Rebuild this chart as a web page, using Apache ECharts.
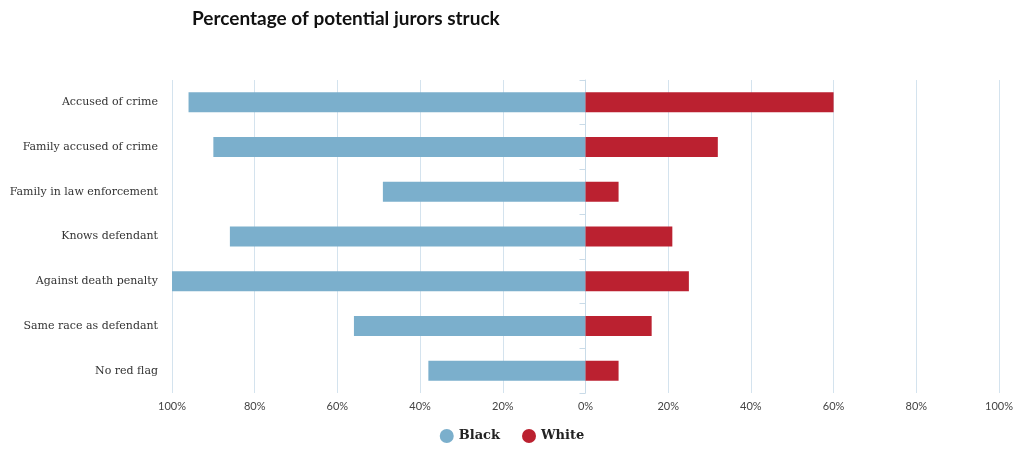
<!DOCTYPE html><html><head><meta charset="utf-8">
<script src="https://cdn.jsdelivr.net/npm/echarts@6/dist/echarts.min.js"></script>
<style>html,body{margin:0;background:#fff}#c{width:1024px;height:456px}</style></head><body><div id="c"></div>
<script>
const categories=["Accused of crime","Family accused of crime","Family in law enforcement","Knows defendant","Against death penalty","Same race as defendant","No red flag"];
const blackValues=[96,90,49,86,100,56,38];
const whiteValues=[60,32,8,21,25,16,8];
const xTicks=[-100,-80,-60,-40,-20,0,20,40,60,80,100];
const chart=echarts.init(document.getElementById('c'));
chart.setOption({
 animation:false,
 title:{text:"Percentage of potential jurors struck",left:187,top:4,textStyle:{fontFamily:"Lato",fontWeight:"bold",fontSize:19,color:"#111"}},
 legend:{bottom:8,left:'center',icon:'circle',itemWidth:14,itemHeight:14,itemGap:22,textStyle:{fontFamily:"DejaVu Serif",fontWeight:'bold',fontSize:13,color:'#222'},data:["Black","White"]},
 grid:{left:172,right:25,top:80,bottom:63},
 xAxis:{type:'value',min:-100,max:100,interval:20,
  axisLabel:{formatter:v=>Math.abs(v)+'%',fontFamily:"Lato",fontSize:11,color:'#444'},
  splitLine:{lineStyle:{color:'#d4e3ee'}},axisLine:{show:false},axisTick:{show:false}},
 yAxis:{type:'category',inverse:true,data:categories,
  axisLine:{lineStyle:{color:'#c9dbe8'}},axisTick:{show:true,length:6,lineStyle:{color:'#c9dbe8'}},
  axisLabel:{fontFamily:"DejaVu Serif",fontSize:11,color:'#333',margin:14}},
 series:[
  {name:"Black",type:'bar',stack:'s',barWidth:20,itemStyle:{color:'#7bafcc'},data:blackValues.map(v=>-v)},
  {name:"White",type:'bar',stack:'s',barWidth:20,itemStyle:{color:'#bb2130'},data:whiteValues}
 ]
});
</script></body></html>
